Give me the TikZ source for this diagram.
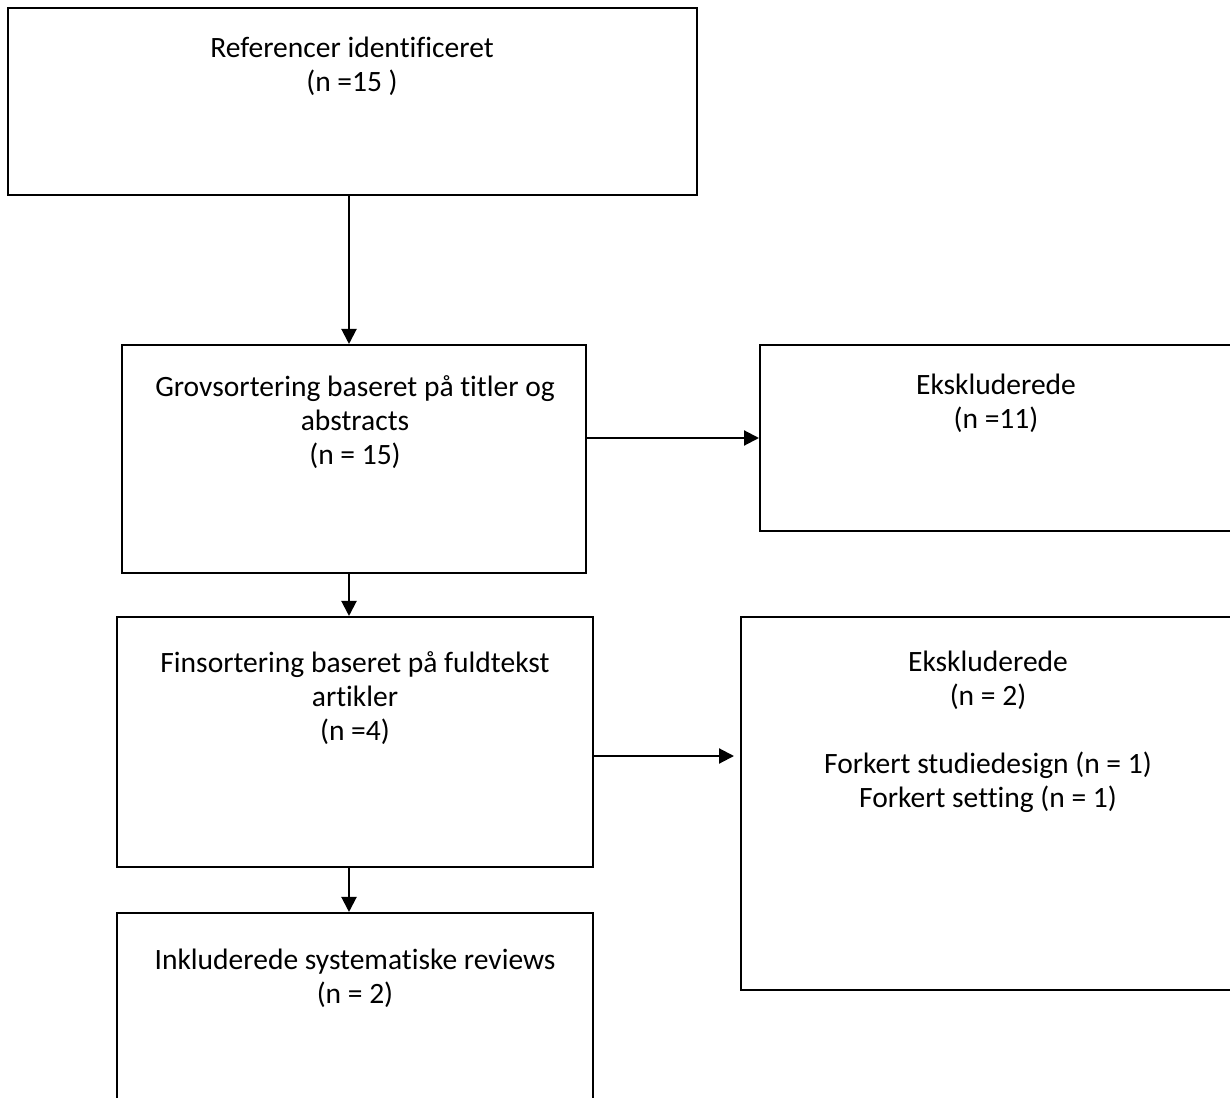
\documentclass[tikz,border=0pt]{standalone}
\usepackage{fontspec}
\setmainfont{Carlito}[Ligatures=NoCommon]
\usetikzlibrary{arrows.meta}
\tikzset{
  box/.style={draw, line width=1.2pt, rectangle, inner sep=0pt},
  txt/.style={align=center, inner sep=0pt, font=\fontsize{16.8}{19.4}\selectfont},
  arr/.style={line width=1.2pt, -{Triangle[length=0.3cm,width=0.3cm]}}
}

\begin{document}
\begin{tikzpicture}[x=0.02cm, y=-0.02cm]
			%%%%% START %%%%%
			\path[use as bounding box, clip] (0, 0) rectangle (1230, 1098);
			
			\node[box, minimum width=13.78cm, minimum height=3.74cm] (ref) at (352.5, 101.5) {};
			\node[txt] (reftxt) at (352, 66) {Referencer identificeret\\(n =15 )};
			
			\node[box, minimum width=9.28cm, minimum height=4.56cm] (grov) at (354, 459) {};
			\node[txt] (grovtxt) at (355, 422) {Grovsortering baseret på titler og\\abstracts\\(n = 15)};
			
			\node[box, minimum width=9.6cm, minimum height=3.72cm] (eks1) at (1000, 438) {};
			\node[txt] (eks1txt) at (996, 403) {Ekskluderede\\(n =11)};
			
			\node[box, minimum width=9.52cm, minimum height=5cm] (fin) at (355, 742) {};
			\node[txt] (fintxt) at (355, 698) {Finsortering baseret på fuldtekst\\artikler\\(n =4)};
			
			\node[box, minimum width=9.98cm, minimum height=7.46cm] (eks2) at (990.5, 803.5) {};
			\node[txt] (eks2txt) at (988, 732) {Ekskluderede\\(n = 2)\\~\\Forkert studiedesign (n = 1)\\Forkert setting (n = 1)};
			
			\node[box, minimum width=9.52cm, minimum height=3.94cm] (inkl) at (355, 1011.5) {};
			\node[txt] (inkltxt) at (355, 978) {Inkluderede systematiske reviews\\(n = 2)};
			
			\coordinate (mid) at (349, 0);
			\coordinate (row2) at (0, 756);
			
			\draw[arr] (ref.south -| mid) -- (grov.north -| mid);
			\draw[arr] (grov.south -| mid) -- (fin.north -| mid);
			\draw[arr] (fin.south -| mid) -- (inkl.north -| mid);
			
			\draw[arr] (grov.east |- eks1.west) -- (eks1.west);
			\draw[arr, shorten >=0.12cm] (fin.east |- row2) -- (eks2.west |- row2);
			%%%%% END %%%%%
\end{tikzpicture}
\end{document}
